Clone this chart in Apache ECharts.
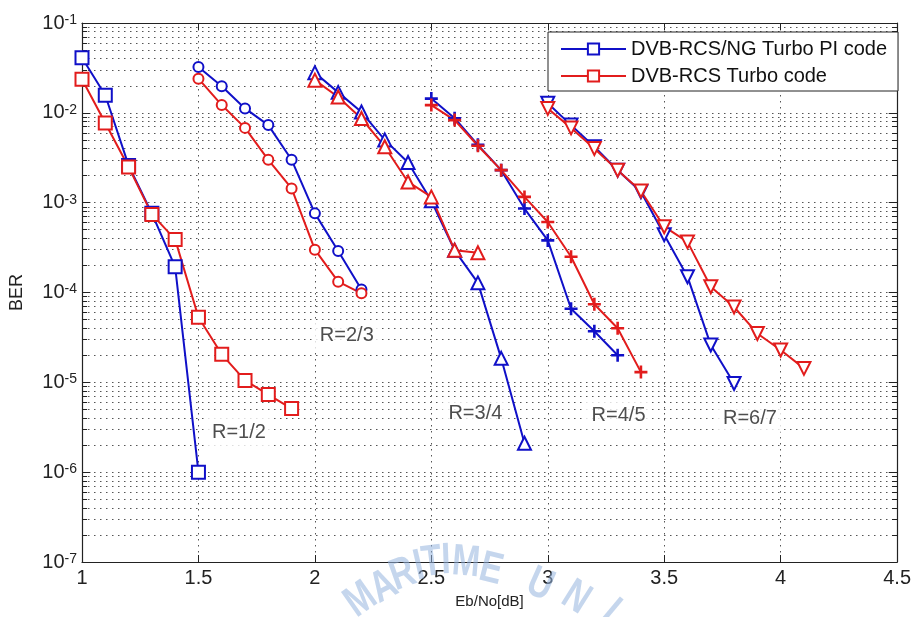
<!DOCTYPE html>
<html><head><meta charset="utf-8">
<script src="https://cdn.jsdelivr.net/npm/echarts@6/dist/echarts.min.js"></script>
<style>html,body{margin:0;padding:0;background:#fff}#c{width:914px;height:617px}</style>
</head><body><div id="c"></div>
<script>
// ---- axes ----
const X_MIN = 1, X_MAX = 4.5, X_STEP = 0.5;
const Y_MIN = 1e-7, Y_MAX = 1e-1;
const minorMultipliers = [2, 3, 4, 5, 6, 7, 8, 9];
const decadeExps = [-7, -6, -5, -4, -3, -2];

// ---- legend / labels ----
const legendNames = ['DVB-RCS/NG Turbo PI code', 'DVB-RCS Turbo code'];
const rateNames = ['R=1/2', 'R=2/3', 'R=3/4', 'R=4/5', 'R=6/7'];
const rateLabelX = [1.674, 2.137, 2.689, 3.304, 3.868];
const rateLabelY = [2.8e-6, 3.36e-5, 4.55e-6, 4.3e-6, 4.0e-6];

// ---- data: R=1/2 ----
const ebno_pi_r12 = [1.0, 1.1, 1.2, 1.3, 1.4, 1.5];
const ber_pi_r12 = [4.1e-2, 1.57e-2, 2.6e-3, 7.6e-4, 1.93e-4, 1.0e-6];
const ebno_rcs_r12 = [1.0, 1.1, 1.2, 1.3, 1.4, 1.5, 1.6, 1.7, 1.8, 1.9];
const ber_rcs_r12 = [2.37e-2, 7.7e-3, 2.5e-3, 7.4e-4, 3.9e-4, 5.3e-5, 2.05e-5, 1.05e-5, 7.3e-6, 5.1e-6];
// ---- R=2/3 ----
const ebno_pi_r23 = [1.5, 1.6, 1.7, 1.8, 1.9, 2.0, 2.1, 2.2];
const ber_pi_r23 = [3.24e-2, 1.98e-2, 1.12e-2, 7.3e-3, 3.0e-3, 7.6e-4, 2.9e-4, 1.08e-4];
const ebno_rcs_r23 = [1.5, 1.6, 1.7, 1.8, 1.9, 2.0, 2.1, 2.2];
const ber_rcs_r23 = [2.4e-2, 1.22e-2, 6.8e-3, 3.0e-3, 1.44e-3, 3.0e-4, 1.32e-4, 9.8e-5];
// ---- R=3/4 ----
const ebno_pi_r34 = [2.0, 2.1, 2.2, 2.3, 2.4, 2.5, 2.6, 2.7, 2.8, 2.9];
const ber_pi_r34 = [2.8e-2, 1.69e-2, 1.02e-2, 5.0e-3, 2.8e-3, 1.05e-3, 2.95e-4, 1.28e-4, 1.85e-5, 2.1e-6];
const ebno_rcs_r34 = [2.0, 2.1, 2.2, 2.3, 2.4, 2.5, 2.6, 2.7];
const ber_rcs_r34 = [2.31e-2, 1.5e-2, 8.65e-3, 4.2e-3, 1.7e-3, 1.16e-3, 2.96e-4, 2.77e-4];
// ---- R=4/5 ----
const ebno_pi_r45 = [2.5, 2.6, 2.7, 2.8, 2.9, 3.0, 3.1, 3.2, 3.3];
const ber_pi_r45 = [1.44e-2, 8.7e-3, 4.4e-3, 2.3e-3, 8.6e-4, 3.8e-4, 6.6e-5, 3.7e-5, 2.0e-5];
const ebno_rcs_r45 = [2.5, 2.6, 2.7, 2.8, 2.9, 3.0, 3.1, 3.2, 3.3, 3.4];
const ber_rcs_r45 = [1.22e-2, 8.3e-3, 4.3e-3, 2.3e-3, 1.16e-3, 6.1e-4, 2.5e-4, 7.4e-5, 4.0e-5, 1.3e-5];
// ---- R=6/7 ----
const ebno_pi_r67 = [3.0, 3.1, 3.2, 3.3, 3.4, 3.5, 3.6, 3.7, 3.8];
const ber_pi_r67 = [1.28e-2, 7.3e-3, 4.2e-3, 2.3e-3, 1.32e-3, 4.4e-4, 1.5e-4, 2.6e-5, 9.7e-6];
const ebno_rcs_r67 = [3.0, 3.1, 3.2, 3.3, 3.4, 3.5, 3.6, 3.7, 3.8, 3.9, 4.0, 4.1];
const ber_rcs_r67 = [1.12e-2, 6.8e-3, 4.0e-3, 2.3e-3, 1.35e-3, 5.4e-4, 3.66e-4, 1.16e-4, 6.9e-5, 3.5e-5, 2.29e-5, 1.43e-5];

// ---- watermark (decoration) ----
const wmLetters = ['M','A','R','I','T','I','M','E','U','N','I'];
const wmPos = [[361,600,35],[384,587,28],[403,575,20],[419,567,13],[432,563,7],[446,561,2],[466,563,-5],[491,570,-14],[540,585,-24],[576,598,-32],[610,612,-40]];

const BLUE = '#1010c8', RED = '#e21c1c';
const FONT = 'Arial, "Liberation Sans", sans-serif';
const PLUS = 'path://M4,0h2v4h4v2h-4v4h-2v-4h-4v-2h4z';

function zip(xs, ys) { return xs.map((x, i) => [x, ys[i]]); }
function mk(name, xs, ys, color, symbol, size, rot) {
  return {
    type: 'line', name: name, data: zip(xs, ys), z: 3,
    symbol: symbol, symbolSize: size, symbolRotate: rot || 0,
    showAllSymbol: true, animation: false,
    lineStyle: { color: color, width: 2 },
    itemStyle: { color: color, borderColor: color, borderWidth: symbol === PLUS ? 0 : 2 }
  };
}

// minor grid & ticks (axis decoration)
const minorVals = [];
decadeExps.forEach(e => minorMultipliers.forEach(m => minorVals.push(Number((m * Math.pow(10, e)).toPrecision(3)))));
const majorVals = [-7,-6,-5,-4,-3,-2,-1].map(e => Number(Math.pow(10, e).toPrecision(3)));
const tickLenMinor = 0.022, tickLenMajor = 0.036;
const TICK_STYLE = { type: 'solid', color: '#222', width: 1 };
const markData = [];
minorVals.forEach(v => {
  markData.push({ yAxis: v, lineStyle: { type: [1.5, 4.5], color: '#555', width: 1 } });
  markData.push([{ coord: [X_MIN, v], lineStyle: TICK_STYLE }, { coord: [X_MIN + tickLenMinor, v] }]);
  markData.push([{ coord: [X_MAX - tickLenMinor, v], lineStyle: TICK_STYLE }, { coord: [X_MAX, v] }]);
});
majorVals.forEach(v => {
  markData.push([{ coord: [X_MIN, v], lineStyle: TICK_STYLE }, { coord: [X_MIN + tickLenMajor, v] }]);
  markData.push([{ coord: [X_MAX - tickLenMajor, v], lineStyle: TICK_STYLE }, { coord: [X_MAX, v] }]);
});

const series = [
  { type: 'line', name: 'grid', data: [], z: 1, silent: true, animation: false,
    markLine: { z: 1, silent: true, precision: 12, symbol: ['none', 'none'], label: { show: false }, animation: false,
      emphasis: { disabled: true }, data: markData } },
  mk(legendNames[0], ebno_pi_r12, ber_pi_r12, BLUE, 'emptyRect', 13),
  mk(legendNames[1], ebno_rcs_r12, ber_rcs_r12, RED, 'emptyRect', 13),
  mk(legendNames[0], ebno_pi_r23, ber_pi_r23, BLUE, 'emptyCircle', 10),
  mk(legendNames[1], ebno_rcs_r23, ber_rcs_r23, RED, 'emptyCircle', 10),
  mk(legendNames[0], ebno_pi_r34, ber_pi_r34, BLUE, 'emptyTriangle', 13),
  mk(legendNames[1], ebno_rcs_r34, ber_rcs_r34, RED, 'emptyTriangle', 13),
  mk(legendNames[0], ebno_pi_r45, ber_pi_r45, BLUE, PLUS, 13),
  mk(legendNames[1], ebno_rcs_r45, ber_rcs_r45, RED, PLUS, 13),
  mk(legendNames[0], ebno_pi_r67, ber_pi_r67, BLUE, 'emptyTriangle', 13, 180),
  mk(legendNames[1], ebno_rcs_r67, ber_rcs_r67, RED, 'emptyTriangle', 13, 180),
  { type: 'scatter', name: 'rates', z: 4, animation: false, symbolSize: 1, silent: true,
    itemStyle: { color: 'rgba(0,0,0,0)' },
    data: rateNames.map((n, i) => ({ name: n, value: [rateLabelX[i], rateLabelY[i]] })),
    label: { show: true, position: 'inside', formatter: p => p.name, fontSize: 20, fontFamily: FONT,
      color: '#222', backgroundColor: '#fff', padding: [5, 6, 3, 6] } }
];

const chart = echarts.init(document.getElementById('c'), null, { renderer: 'canvas' });
chart.setOption({
  backgroundColor: '#fff',
  animation: false,
  grid: { left: 82, right: 7, top: 23, bottom: 55, containLabel: false },
  legend: {
    data: legendNames.map(n => ({ name: n })),
    orient: 'vertical', left: 548, top: 32,
    backgroundColor: '#fff', borderColor: '#222', borderWidth: 1,
    padding: [6, 11, 4, 12], itemGap: 5, itemWidth: 65, itemHeight: 14,
    selectedMode: false,
    textStyle: { fontSize: 20, fontFamily: FONT, color: '#111', lineHeight: 22 }
  },
  xAxis: [
    { type: 'value', min: X_MIN, max: X_MAX, interval: X_STEP, position: 'bottom',
      name: 'Eb/No[dB]', nameLocation: 'middle', nameGap: 32,
      nameTextStyle: { fontSize: 15, fontFamily: FONT, color: '#222' },
      axisLine: { show: true, onZero: false, lineStyle: { color: '#222', width: 1.2 } },
      axisTick: { show: true, inside: true, length: 7, lineStyle: { color: '#222' } },
      axisLabel: { fontSize: 20, fontFamily: FONT, color: '#222', margin: 6 },
      splitLine: { show: true, lineStyle: { type: [1.5, 4.5], color: '#555', width: 1 } } },
    { type: 'value', min: X_MIN, max: X_MAX, interval: X_STEP, position: 'top',
      axisLine: { show: true, onZero: false, lineStyle: { color: '#222', width: 1.2 } },
      axisTick: { show: true, inside: true, length: 7, lineStyle: { color: '#222' } },
      axisLabel: { show: false }, splitLine: { show: false } }
  ],
  yAxis: [
    { type: 'log', logBase: 10, min: Y_MIN, max: Y_MAX, splitNumber: 6, position: 'left',
      name: 'BER', nameLocation: 'middle', nameGap: 56,
      nameTextStyle: { fontSize: 18, fontFamily: FONT, color: '#222' },
      axisLine: { show: true, onZero: false, lineStyle: { color: '#222', width: 1.2 } },
      axisTick: { show: false },
      axisLabel: { margin: 5, fontFamily: FONT, color: '#222',
        formatter: v => '{a|10}{b|' + Math.round(Math.log10(v)) + '}',
        rich: { a: { fontSize: 20, fontFamily: FONT, color: '#222' },
                b: { fontSize: 14, fontFamily: FONT, color: '#222', verticalAlign: 'top' } } },
      splitLine: { show: true, lineStyle: { type: [1.5, 4.5], color: '#555', width: 1 } } },
    { type: 'log', logBase: 10, min: Y_MIN, max: Y_MAX, splitNumber: 6, position: 'right',
      axisLine: { show: true, onZero: false, lineStyle: { color: '#222', width: 1.2 } },
      axisTick: { show: false }, axisLabel: { show: false }, splitLine: { show: false } }
  ],
  series: series,
  graphic: wmLetters.map((ch, i) => ({
    type: 'text', x: wmPos[i][0], y: wmPos[i][1], rotation: wmPos[i][2] * Math.PI / 180,
    z: 100, silent: true, scaleX: 0.76,
    style: { text: ch, font: 'bold 44px Arial, "Liberation Sans", sans-serif',
      fill: 'rgba(150,180,222,0.55)', align: 'center', verticalAlign: 'middle' }
  }))
});
</script></body></html>
